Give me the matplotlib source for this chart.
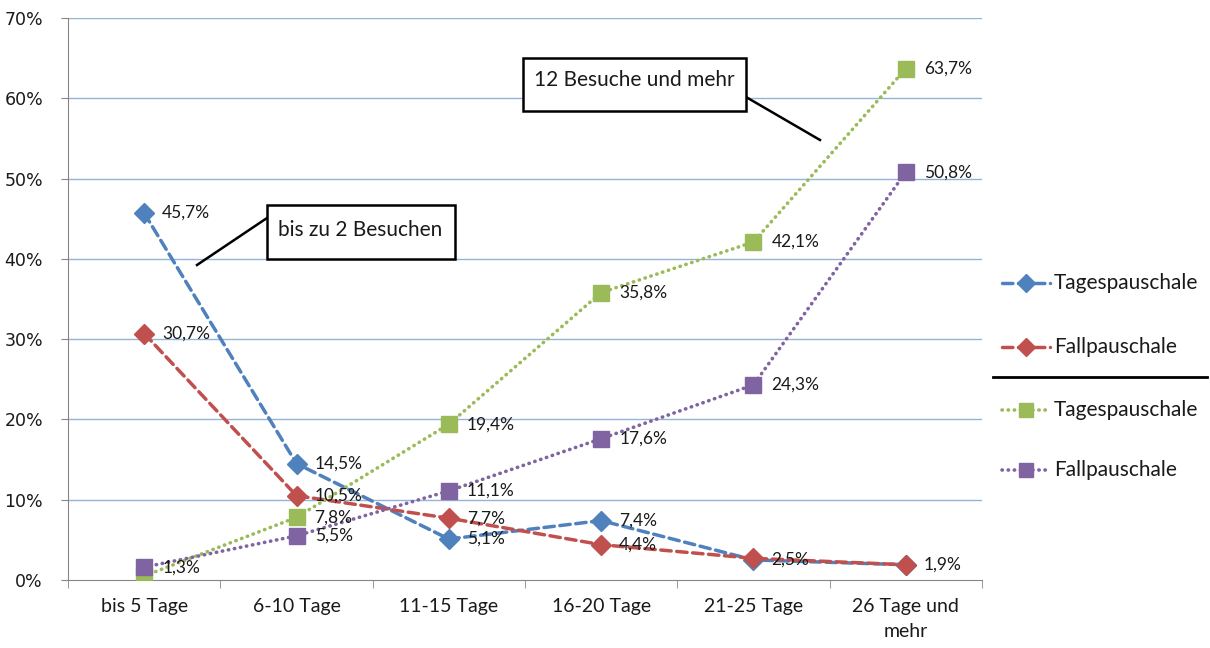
import matplotlib
matplotlib.use("Agg")
import matplotlib.pyplot as plt
from matplotlib.lines import Line2D
from matplotlib.patches import Rectangle
import numpy as np

plt.rcParams['font.family'] = ['Lato', 'DejaVu Sans']

categories = ["bis 5 Tage", "6-10 Tage", "11-15 Tage", "16-20 Tage", "21-25 Tage", "26 Tage und\nmehr"]
tages_2 = [45.7, 14.5, 5.1, 7.4, 2.5, 1.9]
fall_2 = [30.7, 10.5, 7.7, 4.4, 2.7, 1.9]
tages_12 = [0.5, 7.8, 19.4, 35.8, 42.1, 63.7]
fall_12 = [1.6, 5.5, 11.1, 17.6, 24.3, 50.8]
labels_tages_2 = ["45,7%", "14,5%", "5,1%", "7,4%", "2,5%", None]
labels_fall_2 = ["30,7%", "10,5%", "7,7%", "4,4%", None, "1,9%"]
labels_tages_12 = [None, "7,8%", "19,4%", "35,8%", "42,1%", "63,7%"]
labels_fall_12 = ["1,3%", "5,5%", "11,1%", "17,6%", "24,3%", "50,8%"]
yticks = [0, 10, 20, 30, 40, 50, 60, 70]
legend_names = ["Tagespauschale", "Fallpauschale", "Tagespauschale", "Fallpauschale"]

blue = "#4F81BD"
red = "#C0504D"
green = "#9BBB59"
purple = "#8064A2"
txt = "#1a1a1a"

W, H = 1210, 648
fig = plt.figure(figsize=(W / 100, H / 100), dpi=100)
ax = fig.add_axes([68 / W, 1 - 580 / H, (982 - 68) / W, (580 - 18) / H])
x = np.arange(len(categories))
ax.set_xlim(-0.5, len(categories) - 0.5)
ax.set_ylim(0, 70)

for yv in yticks[1:]:
    ax.axhline(yv, color="#95B3D7", lw=1.0, zorder=0)

dash = (0, (3.0, 1.6))
dot = (0, (0.1, 1.6))
series = [
    (tages_2, blue, "D", dash, 10, labels_tages_2, 2.5),
    (fall_2, red, "D", dash, 10, labels_fall_2, 2.5),
    (tages_12, green, "s", dot, 11, labels_tages_12, 2.6),
    (fall_12, purple, "s", dot, 11, labels_fall_12, 2.6),
]
for vals, col, mk, ls, ms, labs, lw in series:
    ln, = ax.plot(x, vals, color=col, lw=lw, linestyle=ls, marker=mk, markersize=ms,
                  markerfacecolor=col, markeredgecolor=col, zorder=3)
    ln.set_dash_capstyle("round")
    for xi, v, lab in zip(x, vals, labs):
        if lab:
            ax.annotate(lab, (xi, v), xytext=(13, 0), textcoords="offset points",
                        ha="left", va="center", fontsize=12.5, color=txt, zorder=4)

ax.set_yticks(yticks)
ax.set_yticklabels([f"{v}%" for v in yticks])
for t in ax.get_yticklabels():
    t.set_fontfamily(["DejaVu Sans"])
    t.set_fontsize(12.5)
    t.set_color(txt)
ax.set_xticks(x)
ax.set_xticklabels(categories, fontsize=14, color=txt, linespacing=1.55)
ax.tick_params(axis="x", length=0, pad=13)
ax.tick_params(axis="y", length=5, color="#868686", pad=13)
ax.set_xticks(np.arange(-0.5, len(categories), 1), minor=True)
ax.tick_params(axis="x", which="minor", length=6, color="#868686")
for s in ["top", "right"]:
    ax.spines[s].set_visible(False)
ax.spines["left"].set_color("#868686")
ax.spines["bottom"].set_color("#868686")


def px(xp, yp):
    return (xp / W, 1 - yp / H)


# callouts
fig.add_artist(Line2D([px(267, 0)[0], px(197, 0)[0]], [px(0, 218)[1], px(0, 265)[1]],
                      transform=fig.transFigure, color="black", lw=1.8))
fig.add_artist(Rectangle(px(267, 259), 188 / W, 54 / H, transform=fig.transFigure,
                         facecolor="white", edgecolor="black", lw=1.8, zorder=5))
fig.text(px(360, 0)[0], px(0, 230)[1], "bis zu 2 Besuchen", ha="center", va="center",
         fontsize=15, zorder=6, color=txt)

fig.add_artist(Line2D([px(746, 0)[0], px(820, 0)[0]], [px(0, 97)[1], px(0, 140)[1]],
                      transform=fig.transFigure, color="black", lw=1.8))
fig.add_artist(Rectangle(px(523, 111), 223 / W, 53 / H, transform=fig.transFigure,
                         facecolor="white", edgecolor="black", lw=1.8, zorder=5))
fig.text(px(634, 0)[0], px(0, 80)[1], "12 Besuche und mehr", ha="center", va="center",
         fontsize=15, zorder=6, color=txt)

# legend
leg_y = [283, 347, 410, 470]
for (vals, col, mk, ls, ms, labs, lw), name, ly in zip(series, legend_names, leg_y):
    l = Line2D([px(1002, 0)[0], px(1050, 0)[0]], [px(0, ly)[1]] * 2, transform=fig.transFigure,
               color=col, lw=lw, linestyle=ls)
    l.set_dash_capstyle("round")
    fig.add_artist(l)
    fig.add_artist(Line2D([px(1026, 0)[0]], [px(0, ly)[1]], transform=fig.transFigure,
                          color=col, marker=mk, markersize=ms - 1, lw=0))
    fig.text(px(1054, 0)[0], px(0, ly)[1], name, ha="left", va="center", fontsize=15,
             color=txt)
fig.add_artist(Line2D([px(993, 0)[0], px(1207, 0)[0]], [px(0, 377)[1]] * 2,
                      transform=fig.transFigure, color="black", lw=2))

fig.savefig("out.png", dpi=100)
